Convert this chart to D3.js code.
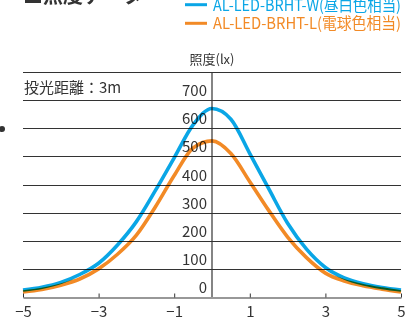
<!DOCTYPE html>
<html><head><meta charset="utf-8">
<script src="https://cdn.jsdelivr.net/npm/d3@7"></script>
<style>
html,body{margin:0;padding:0;background:#fff;}
svg{display:block;font-family:"Noto Sans CJK JP","Noto Sans",sans-serif;}
</style></head>
<body>
<script>
const xValues = [-5,-4.5,-4,-3.5,-3,-2.5,-2,-1.5,-1,-0.5,0,0.5,1,1.5,2,2.5,3,3.5,4,4.5,5];
const seriesW = [25,35,52,80,120,185,268,378,495,612,670,632,510,385,262,170,105,68,47,34,25];
const seriesL = [18,27,42,64,100,152,220,320,432,530,555,510,410,308,213,140,85,57,40,28,18];
const seriesNames = ["AL-LED-BRHT-W(昼白色相当)","AL-LED-BRHT-L(電球色相当)"];
const xTicks = [-5,-3,-1,1,3,5];
const yTicks = [0,100,200,300,400,500,600,700];
const yMax = 800;

const W = 407, H = 319;
const colors = ["#0aa6e6","#f28a26"];
const svg = d3.select("body").append("svg").attr("width",W).attr("height",H);

const x = d3.scaleLinear().domain([-5,5]).range([23,401]);
const y = d3.scaleLinear().domain([0,yMax]).range([297,72]);
const ink = "#333";

// title (cropped at top)
svg.append("text").attr("x",23).attr("y",3).attr("font-size",20).attr("font-weight","bold")
  .attr("fill",ink).text("■照度データ");
// bullet dot
svg.append("circle").attr("cx",2).attr("cy",129).attr("r",3).attr("fill",ink);

// legend
const leg = svg.append("g");
seriesNames.forEach((n,i)=>{
  const ly = [4.7,23.3][i];
  leg.append("line").attr("x1",185).attr("x2",207).attr("y1",ly).attr("y2",ly)
    .attr("stroke",colors[i]).attr("stroke-width",3);
  leg.append("text").attr("x",213).attr("y",ly+6).attr("font-size",15.5).attr("fill",colors[i])
    .attr("textLength",188).attr("lengthAdjust","spacingAndGlyphs").text(n);
});

// gridlines
const grid = svg.append("g");
[...yTicks.slice(1), yMax].forEach(v=>{
  grid.append("line").attr("x1",23).attr("x2",401)
    .attr("y1",Math.round(y(v))+0.5).attr("y2",Math.round(y(v))+0.5)
    .attr("stroke",ink).attr("stroke-width",1);
});

// y axis labels
svg.append("g").selectAll("text").data(yTicks).join("text")
  .attr("x",207).attr("y",d=>y(d)-4).attr("text-anchor","end")
  .attr("font-size",15).attr("fill",ink).text(d=>d);

// y axis title
svg.append("text").attr("x",212).attr("y",64).attr("text-anchor","middle")
  .attr("font-size",13).attr("fill",ink).text("照度(lx)");

// distance label
svg.append("text").attr("x",24).attr("y",93).attr("font-size",15).attr("fill",ink).text("投光距離：3m");

// x axis
const xAxis = d3.axisBottom(x).tickValues(xTicks).tickSize(0).tickPadding(0).tickFormat(d3.format("d"));
const gx = svg.append("g").attr("transform",`translate(0,${Math.round(y(0))+0.5})`).call(xAxis);
gx.select(".domain").attr("stroke",ink).attr("stroke-width",1.2);
gx.selectAll(".tick text").attr("font-size",15).attr("fill",ink).attr("y",19).attr("dy",0)
  .attr("font-family","\"Noto Sans CJK JP\",sans-serif");
gx.selectAll(".tick").append("line").attr("y1",0).attr("y2",-4).attr("stroke",ink);

// vertical axis
svg.append("line").attr("x1",x(0)).attr("x2",x(0)).attr("y1",72).attr("y2",297)
  .attr("stroke",ink).attr("stroke-width",1.2);

// curves
const line = d3.line().x(d=>x(d[0])).y(d=>y(d[1])).curve(d3.curveMonotoneX);
[seriesL, seriesW].forEach((s,k)=>{
  const i = k===0 ? 1 : 0;
  svg.append("path").datum(xValues.map((v,j)=>[v,s[j]]))
    .attr("d",line).attr("fill","none").attr("stroke",colors[i]).attr("stroke-width",3.6)
    .style("mix-blend-mode","multiply");
});
</script>
</body></html>
